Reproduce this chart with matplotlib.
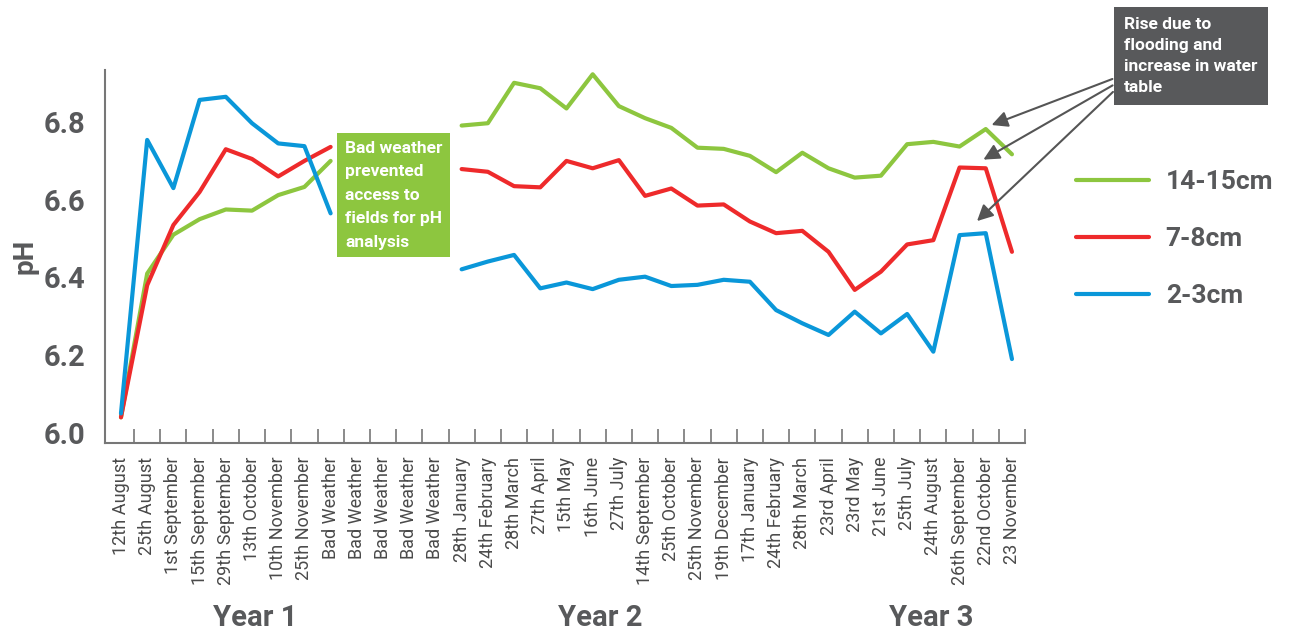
import numpy as np
import matplotlib.pyplot as plt

plt.rcParams['font.family'] = ['Roboto', 'DejaVu Sans']

# x categories (sampling dates)
dates = ["12th August", "25th August", "1st September", "15th September",
         "29th September", "13th October", "10th November", "25th November",
         "Bad Weather", "Bad Weather", "Bad Weather", "Bad Weather", "Bad Weather",
         "28th January", "24th February", "28th March", "27th April", "15th May",
         "16th June", "27th July", "14th September", "25th October",
         "25th November", "19th December", "17th January", "24th February",
         "28th March", "23rd April", "23rd May", "21st June", "25th July",
         "24th August", "26th September", "22nd October", "23 November"]

nan = np.nan
ph_14_15 = [6.04, 6.41, 6.51, 6.55, 6.575, 6.572, 6.612, 6.633, 6.70,
            nan, nan, nan, nan,
            6.791, 6.797, 6.901, 6.887, 6.835, 6.923, 6.841, 6.81, 6.785,
            6.734, 6.731, 6.713, 6.671, 6.721, 6.681, 6.657, 6.662, 6.743,
            6.749, 6.737, 6.782, 6.717]
ph_7_8 = [6.04, 6.38, 6.535, 6.62, 6.73, 6.705, 6.66, 6.70, 6.736,
          nan, nan, nan, nan,
          6.679, 6.672, 6.635, 6.632, 6.70, 6.681, 6.702, 6.61, 6.629,
          6.585, 6.588, 6.544, 6.514, 6.52, 6.466, 6.368, 6.415, 6.485,
          6.496, 6.683, 6.681, 6.466]
ph_2_3 = [6.05, 6.754, 6.63, 6.857, 6.865, 6.797, 6.745, 6.738, 6.565,
          nan, nan, nan, nan,
          6.421, 6.441, 6.458, 6.372, 6.387, 6.37, 6.394, 6.402, 6.378,
          6.381, 6.394, 6.389, 6.316, 6.282, 6.252, 6.312, 6.256, 6.306,
          6.209, 6.509, 6.514, 6.19]

green = "#8DC63F"
red = "#EE2A2B"
blue = "#0A97D9"
grey = "#58595B"

fig = plt.figure(figsize=(13.01, 6.34), dpi=100)
ax = fig.add_axes([0.0807, 0.3013, 0.7072, 0.5883])

x = np.arange(len(dates))
ax.plot(x, ph_14_15, color=green, lw=3, label="14-15cm", solid_capstyle='round')
ax.plot(x, ph_7_8, color=red, lw=3, label="7-8cm", solid_capstyle='round')
ax.plot(x, ph_2_3, color=blue, lw=3, label="2-3cm", solid_capstyle='round')

ax.set_xlim(-0.61, len(dates) - 0.5)
ax.set_ylim(5.974, 6.934)

# y axis
ax.set_yticks([6.0, 6.2, 6.4, 6.6, 6.8])
ax.set_yticklabels(["6.0", "6.2", "6.4", "6.6", "6.8"])
ax.tick_params(axis='y', length=0, pad=14, labelsize=21, labelcolor=grey)
for t in ax.get_yticklabels():
    t.set_fontweight('bold')
ax.set_ylabel("pH", fontsize=20, fontweight='bold', color=grey, labelpad=4)

# x axis: labels at categories, tick marks between categories
ax.set_xticks(x)
ax.set_xticklabels(dates, rotation=90, fontsize=13, color="#4a4a4a")
ax.tick_params(axis='x', length=0, pad=10)
ax.set_xticks(x + 0.5, minor=True)
ax.tick_params(axis='x', which='minor', direction='in', length=10, width=1.2, color="#777777")

for s in ["top", "right"]:
    ax.spines[s].set_visible(False)
for s in ["left", "bottom"]:
    ax.spines[s].set_color("#777777")
    ax.spines[s].set_linewidth(1.5)

# year labels
for label, xpos in [("Year 1", 255), ("Year 2", 600), ("Year 3", 931)]:
    fig.text(xpos / 1301, 1 - 618 / 634, label, ha='center', va='center',
             fontsize=21, fontweight='bold', color=grey)

# bad weather note
fig.text(345 / 1301, 1 - 141 / 634,
         "Bad weather\nprevented\naccess to\nfields for pH\nanalysis",
         ha='left', va='top', fontsize=12.5, fontweight='bold', color='white',
         linespacing=1.7,
         bbox=dict(boxstyle='square,pad=0.45', fc=green, ec='none'))

# flooding note
fig.text(1124 / 1301, 1 - 17 / 634,
         "Rise due to\nflooding and\nincrease in water\ntable",
         ha='left', va='top', fontsize=12.5, fontweight='bold', color='white',
         linespacing=1.5,
         bbox=dict(boxstyle='square,pad=0.6', fc=grey, ec='none'))

arrow_kw = dict(arrowstyle='-|>', color="#555555", lw=1.5, mutation_scale=24)
tails = [(1115, 78), (1115, 84), (1115, 90)]
heads = [(989, 126), (981, 161), (975, 223)]
for (tx, ty), (hx, hy) in zip(tails, heads):
    ax.annotate("", xy=(hx / 1301, 1 - hy / 634), xycoords='figure fraction',
                xytext=(tx / 1301, 1 - ty / 634), textcoords='figure fraction',
                arrowprops=arrow_kw, annotation_clip=False)

leg = fig.legend(loc='upper left', bbox_to_anchor=(1076 / 1301, 1 - 170 / 634),
                 frameon=False, fontsize=19, handlelength=2.75, handletextpad=0.65,
                 labelspacing=1.25, borderpad=0, borderaxespad=0)
for t in leg.get_texts():
    t.set_color(grey)
    t.set_fontweight('bold')

fig.savefig("out.png", dpi=100)
